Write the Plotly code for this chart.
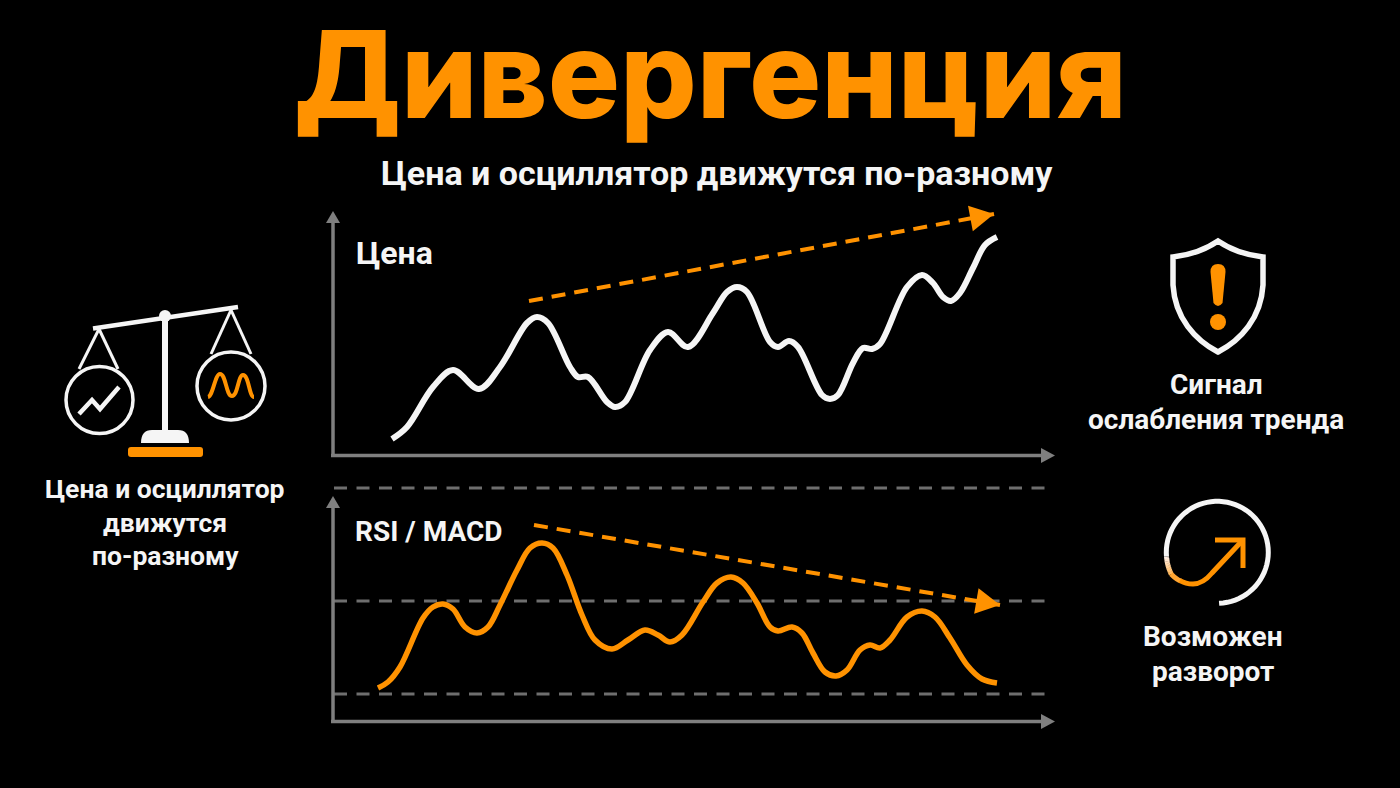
"""Divergence chart: price vs oscillator, using plotly"""
import numpy as np
import plotly.graph_objs as go

ORANGE = '#FF9200'
WHITE = '#F5F5F5'
GREY = '#7F7F7F'
FONT = 'Roboto'

# price panel
price_t = [58, 73, 99, 119, 145, 166, 193, 203, 214, 236, 244, 254, 273, 281, 291, 316, 334, 354, 379, 393,
           403, 413, 436, 444, 455, 464, 488, 496, 504, 519, 529, 538, 546, 573, 588, 599, 609, 617, 626, 639,
           651, 663]
price_v = [17, 29, 69, 86, 67, 89, 133, 139, 133, 89, 79, 79, 54, 49, 54, 106, 124, 109, 143, 164,
           169, 164, 114, 109, 115, 109, 61, 57, 61, 93, 108, 107, 112, 169, 181, 173, 159, 155, 163, 188,
           211, 219]
price_trend_t = [195, 660]
price_trend_v = [155, 242]

# oscillator panel
osc_t = [44, 54, 66, 89, 99, 109, 119, 131, 143, 154, 166, 183, 196, 208, 219, 233, 248, 261, 278, 294,
         311, 324, 336, 348, 369, 383, 397, 409, 423, 436, 444, 458, 468, 479, 491, 502, 513, 526, 536, 546,
         556, 573, 588, 601, 616, 633, 648, 663]
osc_v = [34, 40, 55, 104, 115, 118, 113, 95, 89, 95, 117, 152, 174, 179, 174, 147, 107, 82, 73, 82,
         92, 87, 80, 87, 120, 139, 145, 139, 119, 95, 91, 95, 89, 69, 50, 46, 52, 72, 77, 74,
         82, 105, 111, 105, 84, 57, 43, 39]
osc_trend_t = [200, 666]
osc_trend_v = [197, 117]
osc_levels = [234, 121, 28]

# texts
title = 'Дивергенция'
subtitle = 'Цена и осциллятор движутся по-разному'
price_label = 'Цена'
osc_label = 'RSI / MACD'
left_note = ['Цена и осциллятор', 'движутся', 'по-разному']
signal_note = ['Сигнал', 'ослабления тренда']
reversal_note = ['Возможен', 'разворот']


def px_line(x0, y0, x1, y1, color, width):
    return dict(type='line', xref='x3', yref='y3', x0=x0, y0=y0, x1=x1, y1=y1,
                line=dict(color=color, width=width))


def px_path(path, color=None, width=0, fill=None):
    return dict(type='path', xref='x3', yref='y3', path=path,
                line=dict(color=color or 'rgba(0,0,0,0)', width=width),
                fillcolor=fill or 'rgba(0,0,0,0)')


def px_circle(cx, cy, r, color=None, width=0, fill=None):
    return dict(type='circle', xref='x3', yref='y3', x0=cx - r, y0=cy - r, x1=cx + r, y1=cy + r,
                line=dict(color=color or 'rgba(0,0,0,0)', width=width),
                fillcolor=fill or 'rgba(0,0,0,0)')


def arrow_head(ts, vs, xref, yref, length=24, half=13):
    # triangle at the end of a trend line, axes are 1 unit = 1 px
    d = np.array([ts[1] - ts[0], vs[1] - vs[0]], dtype=float)
    d = d / np.hypot(*d)
    n = np.array([-d[1], d[0]])
    tip = np.array([ts[1], vs[1]], dtype=float)
    a = tip - d * length + n * half
    b = tip - d * length - n * half
    return dict(type='path', xref=xref, yref=yref, fillcolor=ORANGE, line=dict(width=0),
                path=f'M{tip[0]},{tip[1]} L{a[0]},{a[1]} L{b[0]},{b[1]} Z')


def arc_points(cx, cy, r, a0, a1, n=20):
    ang = np.radians(np.linspace(a0, a1, n))
    return cx + r * np.cos(ang), cy + r * np.sin(ang)


def poly(xs, ys):
    return 'M' + ' L'.join(f'{x:.2f},{y:.2f}' for x, y in zip(xs, ys))


# data tracing
traces = []
for level in osc_levels:
    traces.append(go.Scatter(x=[0, 720], y=[level, level], mode='lines', xaxis='x2', yaxis='y2',
                             line=dict(color='#6E6E6E', width=3, dash='13px,9.5px')))
traces.append(go.Scatter(x=price_t, y=price_v, mode='lines', xaxis='x', yaxis='y',
                         line=dict(color=WHITE, width=6, shape='spline', smoothing=1.0)))
traces.append(go.Scatter(x=osc_t, y=osc_v, mode='lines', xaxis='x2', yaxis='y2',
                         line=dict(color=ORANGE, width=5.5, shape='spline', smoothing=1.0)))
traces.append(go.Scatter(x=price_trend_t, y=price_trend_v, mode='lines', xaxis='x', yaxis='y',
                         line=dict(color=ORANGE, width=4, dash='14px,9px')))
traces.append(go.Scatter(x=osc_trend_t, y=osc_trend_v, mode='lines', xaxis='x2', yaxis='y2',
                         line=dict(color=ORANGE, width=4, dash='14px,9px')))
# empty trace so the pixel layer axes exist
traces.append(go.Scatter(x=[], y=[], xaxis='x3', yaxis='y3'))

# axes arrows
shapes = [
    px_line(333, 222, 333, 456, GREY, 3.5),
    px_line(331, 455.5, 1042, 455.5, GREY, 3.5),
    px_path('M333,211 L326,223 L340,223 Z', fill=GREY),
    px_path('M1055,455.5 L1041,448 L1041,463 Z', fill=GREY),
    px_line(333, 507, 333, 723, GREY, 3.5),
    px_line(331, 721.5, 1042, 721.5, GREY, 3.5),
    px_path('M333,496 L326,508 L340,508 Z', fill=GREY),
    px_path('M1055,721.5 L1041,714 L1041,729 Z', fill=GREY),
    arrow_head(price_trend_t, price_trend_v, 'x', 'y'),
    arrow_head(osc_trend_t, osc_trend_v, 'x2', 'y2'),
]

# scales icon
shapes += [
    px_line(93, 328.5, 238, 307, WHITE, 4.5),
    px_line(165, 312, 165, 432, WHITE, 6),
    px_circle(165, 316, 6, fill=WHITE),
    px_path('M141,443 Q141,430 152,430 L178,430 Q189,430 189,443 Z', fill=WHITE),
    px_path('M131,447 L200,447 Q203,447 203,450 L203,454 Q203,457 200,457 L131,457 '
            'Q128,457 128,454 L128,450 Q128,447 131,447 Z', fill=ORANGE),
    px_line(99, 329, 79, 369, WHITE, 3),
    px_line(99, 329, 118, 369, WHITE, 3),
    px_line(231, 310, 211, 354, WHITE, 3),
    px_line(231, 310, 251, 354, WHITE, 3),
    px_circle(99.5, 400, 33.5, color=WHITE, width=3.5),
    px_circle(231, 386, 34, color=WHITE, width=3.5),
    px_path('M79,414 L92,400 L100,409 L119,387', color=WHITE, width=4.5),
    px_path('M208,397 C213,396 215,374 220,374 C226,374 226,396 232,396 '
            'C238,396 238,375 243,375 C249,375 249,397 254,397', color=ORANGE, width=4),
]

# shield icon
shapes += [
    px_path('M1218,241 C1205,250 1190,255 1173,257 L1173,285 C1175,318 1195,340 1218,352 '
            'C1241,340 1261,318 1263,285 L1263,257 C1246,255 1231,250 1218,241 Z', color=WHITE, width=5.5),
    px_path('M1210.5,272 Q1210.5,264 1218,264 Q1225.5,264 1225.5,272 L1222.5,303 '
            'Q1218,309 1213.5,303 Z', fill=ORANGE),
    px_circle(1218, 322, 8, fill=ORANGE),
]

# reversal icon, ring fades into the arrow
xs, ys = arc_points(1217.3, 552.3, 51, 88, -185, 60)
shapes.append(px_path(poly(xs, ys), color=WHITE, width=5))
for i in range(8):
    xs, ys = arc_points(1217.3, 552.3, 51, -185 - 2.5 * i, -185 - 2.5 * (i + 1) - 0.4, 3)
    g = int(245 - 60 * (i + 1) / 8)
    b = int(245 - 150 * (i + 1) / 8)
    shapes.append(px_path(poly(xs, ys), color=f'rgb(255,{g},{b})', width=5))
shapes += [
    px_path('M1171,574 C1174,577 1177,580 1181,581', color='rgb(255,165,50)', width=5),
    px_path('M1180,580.5 C1184,583 1188,584 1193,584 C1201,584 1207,579 1212,573 L1241,542',
            color=ORANGE, width=5),
    px_path('M1215,540 L1243,540 L1243,568', color=ORANGE, width=5),
]


def note(x, y, text, size, anchor='center', weight=700, color=WHITE):
    return dict(xref='x3', yref='y3', x=x, y=y, text=text, showarrow=False, xanchor=anchor, yanchor='middle',
                font=dict(family=FONT, size=size, color=color, weight=weight))


annotations = [
    dict(xref='x3', yref='y3', x=710, y=74, text=title, showarrow=False, xanchor='center', yanchor='middle',
         font=dict(family='Inter', size=120.5, color=ORANGE, weight=800)),
    note(717, 173, subtitle, 34),
    note(354, 253, price_label, 32, anchor='left'),
    note(353, 531, osc_label, 28, anchor='left'),
]
for y, line in zip([488, 522, 555], left_note):
    annotations.append(note(165, y, line, 26.5))
for y, line in zip([384.5, 419.5], signal_note):
    annotations.append(note(1216, y, line, 28))
for y, line in zip([636.5, 671.5], reversal_note):
    annotations.append(note(1213, y, line, 28))

# layout
hidden = dict(visible=False, showgrid=False, zeroline=False, fixedrange=True)
layout = go.Layout(
    width=1400, height=788, margin=dict(l=0, r=0, t=0, b=0),
    paper_bgcolor='#000000', plot_bgcolor='rgba(0,0,0,0)', showlegend=False,
    xaxis=dict(domain=[334 / 1400, 1054 / 1400], range=[0, 720], anchor='y', **hidden),
    yaxis=dict(domain=[1 - 456 / 788, 1 - 196 / 788], range=[0, 260], anchor='x', **hidden),
    xaxis2=dict(domain=[334 / 1400, 1054 / 1400], range=[0, 720], anchor='y2', **hidden),
    yaxis2=dict(domain=[1 - 722 / 788, 1 - 482 / 788], range=[0, 240], anchor='x2', **hidden),
    xaxis3=dict(domain=[0, 1], range=[0, 1400], anchor='y3', **hidden),
    yaxis3=dict(domain=[0, 1], range=[788, 0], anchor='x3', **hidden),
    shapes=shapes, annotations=annotations,
)

fig = go.Figure(data=traces, layout=layout)
fig.write_html('out.html', config=dict(displayModeBar=False),
               post_script="document.body.style.margin='0';document.body.style.background='#000';")
